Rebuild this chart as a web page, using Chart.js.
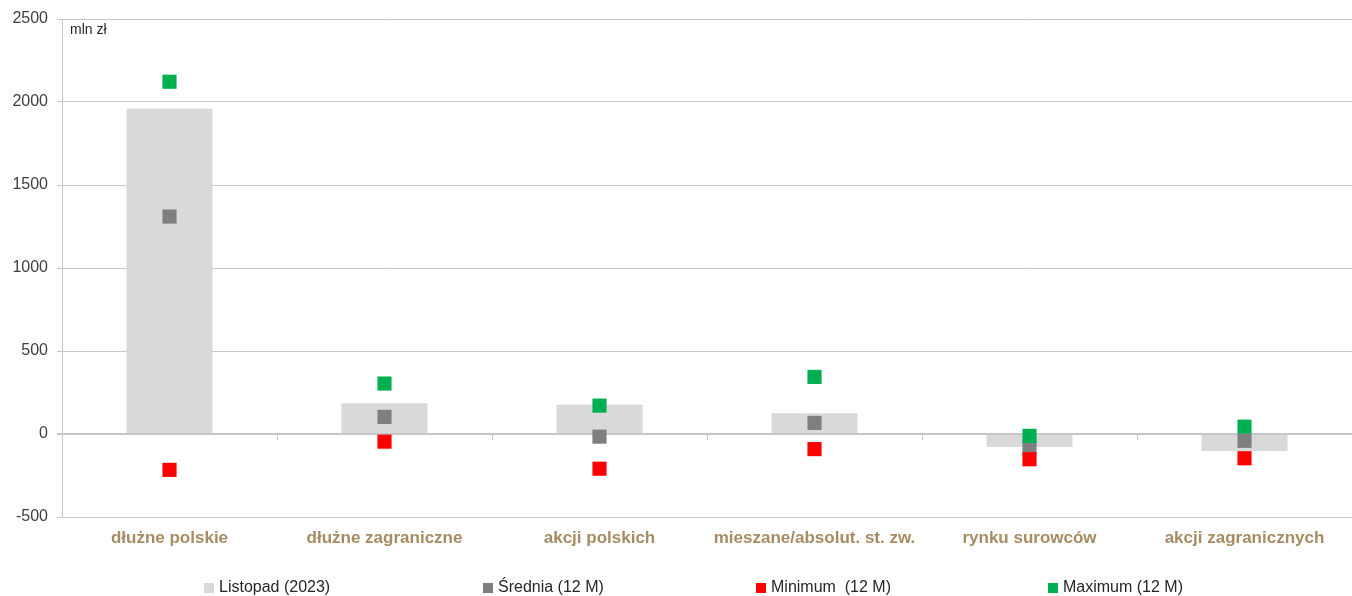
<!DOCTYPE html>
<html>
<head>
<meta charset="utf-8">
<script src="https://cdn.jsdelivr.net/npm/chart.js@4"></script>
<style>
  body { margin: 0; background: #fff; }
  #wrap { position: relative; width: 1352px; height: 596px; }
  #legend { position: absolute; left: 0; top: 578px; width: 1352px; height: 18px; font-family: "Liberation Sans", Arial, sans-serif; font-size: 16px; color: #262626; }
  .item { position: absolute; top: 0; white-space: nowrap; line-height: 18px; }
  .box { display: inline-block; width: 10px; height: 10px; margin-right: 5px; vertical-align: -1px; }
</style>
</head>
<body>
<div id="wrap">
  <canvas id="myChart" width="1352" height="596"></canvas>
  <div id="legend"></div>
</div>
<script>
let kategorie = ['dłużne polskie', 'dłużne zagraniczne', 'akcji polskich', 'mieszane/absolut. st. zw.', 'rynku surowców', 'akcji zagranicznych'];
let listopad = [1960, 185, 176, 125, -78, -102]; // Listopad (2023)
let srednia = [1310, 103, -16, 67, -82, -41];   // Średnia (12 M)
let minimum = [-216, -46, -209, -91, -152, -146]; // Minimum (12 M)
let maximum = [2122, 304, 171, 344, -11, 44];   // Maximum (12 M)
let yTicks = [-500, 0, 500, 1000, 1500, 2000, 2500];

let nazwy = ['Listopad (2023)', 'Średnia (12 M)', 'Minimum  (12 M)', 'Maximum (12 M)'];
let kolory = ['#d9d9d9', '#7f7f7f', '#ff0000', '#00b050'];

// kreski na osi zero miedzy kategoriami + opis "mln zł"
let dodatki = {
    id: 'dodatki',
    beforeDatasetsDraw(chart) {
        let c = chart.ctx;
        let x = chart.scales.x;
        let y0 = chart.scales.y.getPixelForValue(0);
        c.save();
        c.strokeStyle = '#c6c6c6';
        c.lineWidth = 1;
        for (let i = 0; i < kategorie.length - 1; i++) {
            let px = Math.round((x.getPixelForValue(i) + x.getPixelForValue(i + 1)) / 2) + 0.5;
            c.beginPath();
            c.moveTo(px, y0);
            c.lineTo(px, y0 + 6);
            c.stroke();
        }
        c.fillStyle = '#262626';
        c.font = '14px "Liberation Sans", Arial, sans-serif';
        c.textBaseline = 'middle';
        c.fillText('mln zł', chart.chartArea.left + 8, chart.chartArea.top + 11);
        c.restore();
    }
};

let ctx = document.getElementById('myChart').getContext('2d');
let myChart = new Chart(ctx, {
    type: 'bar',
    data: {
        labels: kategorie,
        datasets: [
            {
                label: nazwy[0],
                data: listopad,
                backgroundColor: kolory[0],
                categoryPercentage: 1,
                barPercentage: 0.4,
                order: 4
            },
            {
                type: 'line',
                label: nazwy[1],
                data: srednia,
                showLine: false,
                pointStyle: 'rect',
                pointRadius: 10,
                pointHoverRadius: 10,
                pointBackgroundColor: kolory[1],
                pointBorderColor: kolory[1],
                pointBorderWidth: 0,
                order: 3
            },
            {
                type: 'line',
                label: nazwy[2],
                data: minimum,
                showLine: false,
                pointStyle: 'rect',
                pointRadius: 10,
                pointHoverRadius: 10,
                pointBackgroundColor: kolory[2],
                pointBorderColor: kolory[2],
                pointBorderWidth: 0,
                order: 2
            },
            {
                type: 'line',
                label: nazwy[3],
                data: maximum,
                showLine: false,
                pointStyle: 'rect',
                pointRadius: 10,
                pointHoverRadius: 10,
                pointBackgroundColor: kolory[3],
                pointBorderColor: kolory[3],
                pointBorderWidth: 0,
                order: 1
            }
        ]
    },
    options: {
        responsive: false,
        animation: false,
        layout: {
            autoPadding: false,
            padding: { top: 19, right: 0, left: 0, bottom: 0 }
        },
        plugins: {
            legend: { display: false },
            tooltip: { enabled: false }
        },
        scales: {
            x: {
                grid: { display: false, drawTicks: false },
                border: { display: false },
                ticks: {
                    padding: 11,
                    color: '#a68c64',
                    font: { family: '"Liberation Sans", Arial, sans-serif', size: 17, weight: 'bold' },
                    maxRotation: 0
                },
                afterFit(scale) {
                    scale.height = 79;
                    scale.paddingLeft = 0;
                    scale.paddingRight = 0;
                }
            },
            y: {
                min: -500,
                max: 2500,
                afterBuildTicks(scale) { scale.ticks = yTicks.map(v => ({ value: v })); },
                grid: {
                    color: '#c6c6c6',
                    lineWidth: c => (c.tick && c.tick.value === 0 ? 2 : 1),
                    tickLength: 5
                },
                border: { display: true, color: '#c6c6c6', width: 1 },
                ticks: {
                    padding: 9,
                    color: '#404040',
                    font: { family: '"Liberation Sans", Arial, sans-serif', size: 16 },
                    callback: v => String(v)
                },
                afterFit(scale) { scale.width = 62; }
            }
        }
    },
    plugins: [dodatki]
});

// legenda
let pozycje = [204, 483, 756, 1048];
let leg = document.getElementById('legend');
nazwy.forEach((n, i) => {
    let d = document.createElement('div');
    d.className = 'item';
    d.style.left = pozycje[i] + 'px';
    d.innerHTML = '<span class="box" style="background:' + kolory[i] + '"></span>' + n.replace(/  /g, ' &nbsp;');
    leg.appendChild(d);
});
</script>
</body>
</html>
